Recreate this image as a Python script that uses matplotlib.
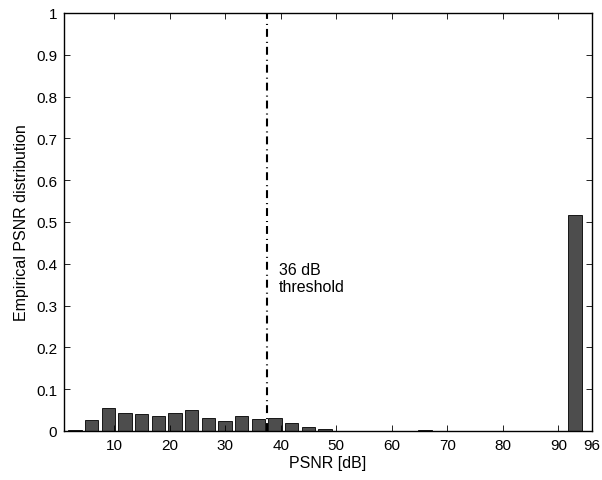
import numpy as np
import matplotlib.pyplot as plt

plt.rcParams['font.family'] = ['Liberation Sans', 'DejaVu Sans']

# histogram bin centres [dB] and relative frequencies
psnr_centres = [3, 6, 9, 12, 15, 18, 21, 24, 27, 30, 33, 36, 39, 42, 45, 48,
                51, 54, 57, 60, 63, 66, 69, 72, 75, 78, 81, 84, 87, 90, 93]
psnr_freq = [0.003, 0.027, 0.056, 0.042, 0.041, 0.035, 0.042, 0.051, 0.032,
             0.025, 0.035, 0.028, 0.032, 0.019, 0.009, 0.004, 0.001, 0.0005,
             0.0, 0.0, 0.0003, 0.002, 0.0, 0.0, 0.0, 0.0, 0.0, 0.0, 0.0, 0.0,
             0.517]
threshold_x = 37.5
xticks = [10, 20, 30, 40, 50, 60, 70, 80, 90, 96]
yticks = [0, 0.1, 0.2, 0.3, 0.4, 0.5, 0.6, 0.7, 0.8, 0.9, 1]
ytick_labels = ['0', '0.1', '0.2', '0.3', '0.4', '0.5', '0.6', '0.7', '0.8', '0.9', '1']

fig = plt.figure(figsize=(6.02, 4.81), dpi=100)
ax = fig.add_axes([0.1063, 0.1019, 0.8766, 0.869])

ax.bar(psnr_centres, psnr_freq, width=2.4, color='#4d4d4d',
       edgecolor='black', linewidth=0.6)
ax.plot([threshold_x, threshold_x], [0, 1], color='black', linewidth=1.5,
        dashes=(3.8, 1.9, 0.5, 2.4))
ax.text(39.7, 0.366, '36 dB\nthreshold', fontsize=11.5, va='center', ha='left',
        linespacing=1.2)

ax.set_xlim(1, 96)
ax.set_ylim(0, 1)
ax.set_xticks(xticks)
ax.set_yticks(yticks)
ax.set_yticklabels(ytick_labels)
ax.tick_params(direction='in', top=True, right=True, length=4, width=0.6,
               labelsize=11, pad=5)
for s in ax.spines.values():
    s.set_linewidth(1.0)

ax.set_xlabel('PSNR [dB]', fontsize=11.5, labelpad=2)
ax.set_ylabel('Empirical PSNR distribution', fontsize=11.5, labelpad=5)

fig.savefig('out.png', dpi=100)
